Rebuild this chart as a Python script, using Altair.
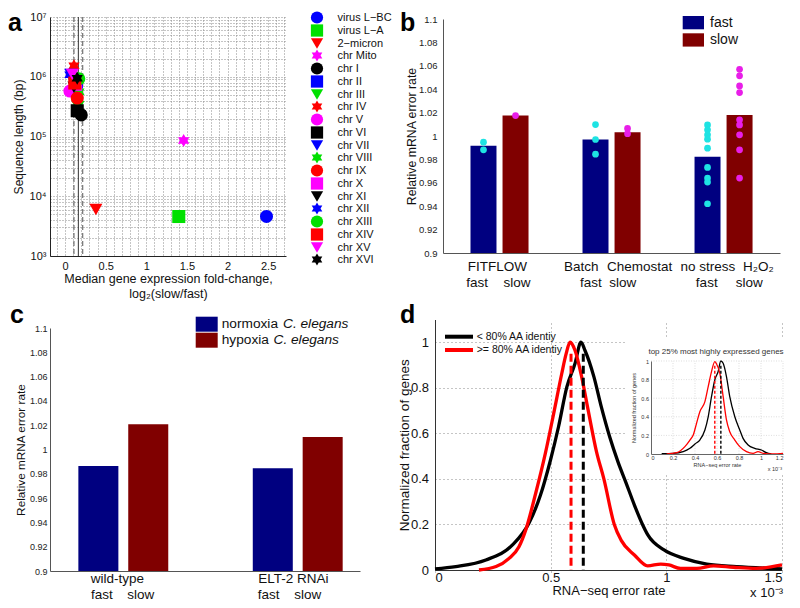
import altair as alt
import pandas as pd

FONT = "Liberation Sans"

# ---------------- panel a data ----------------
a_names = ["virus L−BC", "virus L−A", "2−micron", "chr Mito", "chr I", "chr II", "chr III",
           "chr IV", "chr V", "chr VI", "chr VII", "chr VIII", "chr IX", "chr X", "chr XI",
           "chr XII", "chr XIII", "chr XIV", "chr XV", "chr XVI"]
a_fold = [2.48, 1.40, 0.38, 1.46, 0.20, 0.14, 0.16, 0.11, 0.06, 0.15, 0.07, 0.17,
          0.15, 0.13, 0.11, 0.06, 0.17, 0.12, 0.09, 0.15]
a_length = [4600, 4580, 6000, 85800, 230000, 813000, 317000, 1530000, 577000, 270000,
            1090000, 563000, 440000, 746000, 667000, 1078000, 924000, 784000, 1091000, 948000]
a_ci_lines = [0.11, 0.218]
a_median_line = [0.164]

# ---------------- panel b data ----------------
b_groups = [1, 2, 3]
b_fast_mean = [0.9916, 0.9970, 0.9822]
b_slow_mean = [1.0175, 1.0033, 1.0180]
b_fast_points = [[0.9947, 0.9882],
                 [1.0098, 0.9970, 0.9845],
                 [1.0095, 1.0053, 1.0010, 0.9973, 0.9896, 0.9731, 0.9640, 0.9606, 0.9421]]
b_slow_points = [[1.0175],
                 [1.0065, 1.0020],
                 [1.0570, 1.0514, 1.0428, 1.0371, 1.0138, 1.0095, 1.0010, 0.9882, 0.9640]]
b_labels_top = ["FITFLOW", "Batch", "Chemostat", "no stress", "H₂O₂"]
b_labels_bottom = ["fast", "slow", "fast", "slow", "fast", "slow"]
b_conditions = ["fast", "slow"]

# ---------------- panel c data ----------------
c_groups = [1, 2]
c_normoxia = [0.9864, 0.9845]
c_hypoxia = [1.0207, 1.0103]
c_labels_top = ["wild-type", "ELT-2 RNAi"]
c_labels_bottom = ["fast", "slow", "fast", "slow"]
c_legend_plain = ["normoxia", "hypoxia"]
c_legend_italic = ["C. elegans", "C. elegans"]

# ticks shared by b and c
rel_ticks = [0.9, 0.92, 0.94, 0.96, 0.98, 1.0, 1.02, 1.04, 1.06, 1.08, 1.1]

# ---------------- panel d data (x in units of 1e-3) ----------------
d_series = ["< 80% AA identiy", ">= 80% AA identiy"]
d_low_x = [0.0, 0.09, 0.22, 0.335, 0.406, 0.456, 0.499, 0.534, 0.57, 0.605, 0.631, 0.648,
           0.687, 0.719, 0.755, 0.791, 0.825, 0.862, 0.897, 0.92, 0.99, 1.076, 1.175, 1.303, 1.5]
d_low_y = [0.005, 0.015, 0.044, 0.11, 0.205, 0.329, 0.482, 0.629, 0.804, 0.906, 1.0, 0.965,
           0.848, 0.716, 0.585, 0.475, 0.385, 0.285, 0.2, 0.154, 0.088, 0.051, 0.026, 0.015, 0.005]
d_high_x = [0.19, 0.264, 0.32, 0.363, 0.392, 0.435, 0.477, 0.513, 0.548, 0.567, 0.584, 0.605,
            0.634, 0.662, 0.698, 0.73, 0.775, 0.805, 0.862, 0.919, 0.976, 1.011, 1.061, 1.132,
            1.204, 1.289, 1.389, 1.5]
d_high_y = [0.0, 0.015, 0.051, 0.102, 0.175, 0.336, 0.512, 0.687, 0.863, 0.95, 1.0, 0.965,
            0.848, 0.702, 0.52, 0.40, 0.20, 0.13, 0.066, 0.018, 0.026, 0.022, 0.007, 0.007,
            0.018, 0.012, 0.007, 0.022]
d_medians = [0.641, 0.588]
d_median_tops = [0.95, 0.95]

# inset (top 25% most highly expressed genes)
i_low_x = [0.097, 0.2, 0.293, 0.354, 0.4, 0.444, 0.49, 0.52, 0.55, 0.58, 0.61, 0.635, 0.656,
           0.686, 0.716, 0.762, 0.807, 0.837, 0.883, 0.943, 1.004, 1.049, 1.094]
i_low_y = [0.004, 0.007, 0.025, 0.061, 0.108, 0.15, 0.258, 0.40, 0.616, 0.796, 0.885, 1.0, 0.975,
           0.832, 0.616, 0.40, 0.258, 0.168, 0.097, 0.061, 0.043, 0.014, 0.0]
i_high_x = [0.142, 0.233, 0.308, 0.354, 0.384, 0.414, 0.444, 0.49, 0.52, 0.55, 0.58, 0.596,
            0.626, 0.656, 0.686, 0.716, 0.762, 0.807, 0.868, 0.928, 0.973, 1.019, 1.109, 1.2]
i_high_y = [0.0, 0.014, 0.079, 0.15, 0.204, 0.33, 0.455, 0.563, 0.724, 0.885, 0.993, 0.968,
            0.867, 0.616, 0.366, 0.24, 0.15, 0.079, 0.025, 0.007, 0.025, 0.007, 0.0, 0.007]
i_medians = [0.635, 0.58]
i_median_tops = [0.95, 0.95]

# ---------------- styles ----------------
BLUE, GREEN, RED, MAGENTA, BLACK = "#0000ff", "#00e000", "#ff0000", "#ff00ff", "#000000"
NAVY, MAROON = "#000080", "#800000"
CYAN, PINK = "#1ee3e3", "#e81ee8"
HEXAGRAM = "M0,-1L0.866,0.5L-0.866,0.5Z M0,1L-0.866,-0.5L0.866,-0.5Z"
color_cycle = [BLUE, GREEN, RED, MAGENTA, BLACK]
shape_cycle = ["circle", "square", "triangle-down", HEXAGRAM]
a_colors = [color_cycle[i % 5] for i in range(len(a_names))]
a_shapes = [shape_cycle[i % 4] for i in range(len(a_names))]


def letter(txt, x, y, baseline):
    return alt.Chart(pd.DataFrame({"t": [txt]})).mark_text(
        fontSize=25, fontWeight="bold", align="left", baseline=baseline, font=FONT, color="black"
    ).encode(x=alt.value(x), y=alt.value(y), text="t:N")


# =============== panel a ===============
a_xvals = [round(-0.1 + 0.1 * i, 1) for i in range(29)]
a_yvals = [k * 10 ** e for e in range(3, 7) for k in range(1, 10)] + [10 ** 7]
a_xscale = alt.Scale(domain=[-0.185, 2.72], range=[0, 236], nice=False, zero=False)
a_yscale = alt.Scale(type="log", domain=[1e3, 1e7], nice=False)
a_xaxis = alt.Axis(
    values=a_xvals,
    labelExpr="abs(datum.value*2 - round(datum.value*2)) < 0.001 ? format(datum.value, '~g') : ''",
    grid=True, gridDash=[1, 2], gridColor="#8a8a8a", ticks=False, domainColor="#222",
    labelFontSize=11, labelPadding=4, labelColor="#111",
    title=["Median gene expression fold-change,", "log₂(slow/fast)"],
    titleFontSize=12.5, titleFontWeight="normal", titlePadding=1, titleLineHeight=15,
    titleColor="#111")
a_yaxis = alt.Axis(
    values=a_yvals,
    labelExpr="datum.value==1000?'10³':datum.value==10000?'10⁴':datum.value==100000?'10⁵':"
              "datum.value==1000000?'10⁶':datum.value==10000000?'10⁷':''",
    grid=True, gridDash=[1, 2], gridColor="#8a8a8a", ticks=False, domainColor="#222",
    labelFontSize=11, labelPadding=4, labelColor="#111",
    title="Sequence length (bp)", titleFontSize=12, titleFontWeight="normal", titlePadding=4,
    titleColor="#111")
ax = alt.X("fold:Q", scale=a_xscale, axis=a_xaxis)
ay = alt.Y("length:Q", scale=a_yscale, axis=a_yaxis)

a_leg = alt.Legend(title=None, orient="none", legendX=260.5, legendY=-6, symbolSize=150,
                   labelFontSize=11, labelFont=FONT, labelOffset=14, rowPadding=-0.55, padding=0,
                   symbolStrokeWidth=0, symbolOpacity=1, labelColor="#111", labelLimit=200)
a_df = pd.DataFrame({"name": a_names, "fold": a_fold, "length": a_length})
a_points = alt.Chart(a_df).mark_point(filled=True, size=170, opacity=1, strokeWidth=0).encode(
    x=ax, y=ay,
    color=alt.Color("name:N", scale=alt.Scale(domain=a_names, range=a_colors), legend=a_leg),
    shape=alt.Shape("name:N", scale=alt.Scale(domain=a_names, range=a_shapes), legend=a_leg),
)
a_ci = alt.Chart(pd.DataFrame({"fold": a_ci_lines})).mark_rule(
    strokeDash=[5, 3], color="#555", strokeWidth=1).encode(x=ax)
a_med = alt.Chart(pd.DataFrame({"fold": a_median_line})).mark_rule(
    color="#333", strokeWidth=1).encode(x=ax)
panel_a = alt.layer(a_ci, a_med, a_points, letter("a", -42, -6, "top")).properties(
    width=318, height=239)

# =============== panel b ===============
b_xscale = alt.Scale(domain=[0.4955, 3.504], nice=False, zero=False)
b_yscale = alt.Scale(domain=[0.9, 1.1], range=[236, 2], nice=False, zero=False)
b_xaxis = alt.Axis(labels=False, ticks=False, grid=False, title=None, domainColor="#555")
b_yaxis = alt.Axis(values=rel_ticks, format=".2~f", ticks=False, grid=False, domainColor="#555",
                   labelFontSize=9.5, labelPadding=6, labelColor="#222",
                   title="Relative mRNA error rate", titleFontSize=12.3,
                   titleFontWeight="normal", titlePadding=0.5, titleColor="#111")
b_fill = alt.Scale(domain=b_conditions, range=[NAVY, MAROON])
b_dot_color = alt.Scale(domain=b_conditions, range=[CYAN, PINK])

b_bar_df = pd.DataFrame({"g": b_groups * 2, "cond": ["fast"] * 3 + ["slow"] * 3,
                         "v": b_fast_mean + b_slow_mean})
b_bars = alt.Chart(b_bar_df).transform_calculate(
    x0="datum.g + (datum.cond == 'fast' ? -0.143 : 0.143) - 0.116",
    x1="datum.g + (datum.cond == 'fast' ? -0.143 : 0.143) + 0.116",
).mark_rect().encode(
    x=alt.X("x0:Q", scale=b_xscale, axis=b_xaxis), x2="x1:Q",
    y=alt.Y("v:Q", scale=b_yscale, axis=b_yaxis), y2=alt.datum(0.9),
    fill=alt.Fill("cond:N", scale=b_fill, legend=None))

rows = []
for g, pts in zip(b_groups, b_fast_points):
    rows += [(g, "fast", p) for p in pts]
for g, pts in zip(b_groups, b_slow_points):
    rows += [(g, "slow", p) for p in pts]
b_dot_df = pd.DataFrame(rows, columns=["g", "cond", "v"])
b_dots = alt.Chart(b_dot_df).transform_calculate(
    x0="datum.g + (datum.cond == 'fast' ? -0.143 : 0.143)"
).mark_circle(size=45, opacity=1).encode(
    x=alt.X("x0:Q", scale=b_xscale, axis=b_xaxis),
    y=alt.Y("v:Q", scale=b_yscale, axis=b_yaxis),
    color=alt.Color("cond:N", scale=b_dot_color, legend=None))

# category labels under the axis (label layout offsets in category units)
b_top_pos = [0.98, 1.73, 2.25, 2.86, 3.31]
b_bottom_pos = [0.80, 1.156, 1.815, 2.10, 2.85, 3.23]
b_top = alt.Chart(pd.DataFrame({"t": b_labels_top, "x0": b_top_pos})).mark_text(
    fontSize=13.5, baseline="middle", font=FONT, color="#111").encode(
    x=alt.X("x0:Q", scale=b_xscale, axis=b_xaxis), y=alt.value(250), text="t:N")
b_bottom = alt.Chart(pd.DataFrame({"t": b_labels_bottom, "x0": b_bottom_pos})).mark_text(
    fontSize=13.5, baseline="middle", font=FONT, color="#111").encode(
    x=alt.X("x0:Q", scale=b_xscale, axis=b_xaxis), y=alt.value(266), text="t:N")

b_legend = []
for i, cond in enumerate(b_conditions):
    one = alt.Chart(pd.DataFrame({"cond": [cond]}))
    b_legend.append(one.mark_rect().encode(
        x=alt.value(239.7), x2=alt.value(261), y=alt.value(-1 + 17.3 * i),
        y2=alt.value(12.3 + 17.3 * i), fill=alt.Fill("cond:N", scale=b_fill, legend=None)))
    b_legend.append(one.mark_text(fontSize=14, align="left", baseline="middle", font=FONT,
                                  color="#111").encode(
        x=alt.value(267), y=alt.value(5.7 + 17.3 * i), text="cond:N"))

panel_b = alt.layer(b_bars, b_dots, b_top, b_bottom, *b_legend,
                    letter("b", -43, -6, "top")).properties(width=337, height=236)

# =============== panel c ===============
c_xscale = alt.Scale(domain=[0.5797, 2.357], nice=False, zero=False)
c_yscale = alt.Scale(domain=[0.9, 1.1], range=[248, 5], nice=False, zero=False)
c_xaxis = alt.Axis(labels=False, ticks=False, grid=False, title=None, domainColor="#555")
c_yaxis = alt.Axis(values=rel_ticks, format=".2~f", ticks=False, grid=False, domainColor="#555",
                   labelFontSize=9, labelPadding=3, labelColor="#222",
                   title="Relative mRNA error rate", titleFontSize=11.8,
                   titleFontWeight="normal", titlePadding=3, titleColor="#111")
c_cond = ["normoxia C. elegans", "hypoxia C. elegans"]
c_fill = alt.Scale(domain=c_cond, range=[NAVY, MAROON])
c_bar_df = pd.DataFrame({"g": c_groups * 2, "cond": [c_cond[0]] * 2 + [c_cond[1]] * 2,
                         "v": c_normoxia + c_hypoxia})
c_bars = alt.Chart(c_bar_df).transform_calculate(
    x0="datum.g + (datum.cond == '%s' ? -0.143 : 0.143) - 0.1147" % c_cond[0],
    x1="datum.g + (datum.cond == '%s' ? -0.143 : 0.143) + 0.1147" % c_cond[0],
).mark_rect().encode(
    x=alt.X("x0:Q", scale=c_xscale, axis=c_xaxis), x2="x1:Q",
    y=alt.Y("v:Q", scale=c_yscale, axis=c_yaxis), y2=alt.datum(0.9),
    fill=alt.Fill("cond:N", scale=c_fill, legend=None))
c_top_pos = [0.966, 1.975]
c_bottom_pos = [0.877, 1.10, 1.833, 2.057]
c_top = alt.Chart(pd.DataFrame({"t": c_labels_top, "x0": c_top_pos})).mark_text(
    fontSize=13.5, baseline="middle", font=FONT, color="#111").encode(
    x=alt.X("x0:Q", scale=c_xscale, axis=c_xaxis), y=alt.value(256.3), text="t:N")
c_bottom = alt.Chart(pd.DataFrame({"t": c_labels_bottom, "x0": c_bottom_pos})).mark_text(
    fontSize=13.5, baseline="middle", font=FONT, color="#111").encode(
    x=alt.X("x0:Q", scale=c_xscale, axis=c_xaxis), y=alt.value(272), text="t:N")
c_legend = []
c_italic_x = [233, 223.5]
for i, cond in enumerate(c_cond):
    one = alt.Chart(pd.DataFrame({"cond": [cond], "p": [c_legend_plain[i]],
                                  "it": [c_legend_italic[i]]}))
    c_legend.append(one.mark_rect().encode(
        x=alt.value(145.7), x2=alt.value(167.7), y=alt.value(-6.3 + 16 * i),
        y2=alt.value(8.7 + 16 * i), fill=alt.Fill("cond:N", scale=c_fill, legend=None)))
    c_legend.append(one.mark_text(fontSize=13.7, align="left", baseline="middle", font=FONT,
                                  color="#111").encode(
        x=alt.value(171.7), y=alt.value(1 + 16 * i), text="p:N"))
    c_legend.append(one.mark_text(fontSize=13.7, align="left", baseline="middle", font=FONT,
                                  fontStyle="italic", color="#111").encode(
        x=alt.value(c_italic_x[i]), y=alt.value(1 + 16 * i), text="it:N"))

panel_c = alt.layer(c_bars, c_top, c_bottom, *c_legend,
                    letter("c", -40, 0, "alphabetic")).properties(width=310, height=248)

# =============== panel d ===============
d_xscale = alt.Scale(domain=[0, 1.5], range=[-8, 339], nice=False, zero=False)
d_yscale = alt.Scale(domain=[0, 1.1], range=[247, -3.5], nice=False, zero=False)
d_xaxis = alt.Axis(values=[0, 0.5, 1.0, 1.5], format="~g", grid=True, gridDash=[1, 3],
                   gridColor="#8a8a8a", ticks=False, domainColor="#333", labelFontSize=13,
                   labelPadding=1.5, labelColor="#111", title="RNA−seq error rate",
                   titleFontSize=13, titleFontWeight="normal", titlePadding=0,
                   titleColor="#111")
d_yaxis = alt.Axis(values=[0, 0.2, 0.4, 0.6, 0.8, 1.0], format=".1~f", grid=True,
                   gridDash=[1, 3], gridColor="#8a8a8a", ticks=False, domainColor="#333",
                   labelFontSize=13, labelPadding=6.5, labelColor="#111", offset=8,
                   title="Normalized fraction of genes", titleFontSize=13.5,
                   titleFontWeight="normal", titlePadding=-1, titleColor="#111")
d_color = alt.Scale(domain=d_series, range=[BLACK, RED])

d_line_df = pd.concat([
    pd.DataFrame({"x": d_low_x, "y": d_low_y, "series": d_series[0]}),
    pd.DataFrame({"x": d_high_x, "y": d_high_y, "series": d_series[1]}),
])
d_lines = alt.Chart(d_line_df).mark_line(strokeWidth=3.3, interpolate="monotone").encode(
    x=alt.X("x:Q", scale=d_xscale, axis=d_xaxis),
    y=alt.Y("y:Q", scale=d_yscale, axis=d_yaxis),
    color=alt.Color("series:N", scale=d_color, legend=None),
    order=alt.Order("x:Q"))
d_med_df = pd.DataFrame({"x": d_medians, "y": d_median_tops, "series": d_series})
d_meds = alt.Chart(d_med_df).transform_calculate(y0="0").mark_rule(
    strokeWidth=3, strokeDash=[8, 4]).encode(
    x=alt.X("x:Q", scale=d_xscale, axis=d_xaxis),
    y=alt.Y("y:Q", scale=d_yscale, axis=d_yaxis), y2="y0:Q",
    color=alt.Color("series:N", scale=d_color, legend=None))
d_legend = []
for i, s in enumerate(d_series):
    one = alt.Chart(pd.DataFrame({"series": [s]}))
    d_legend.append(one.mark_rule(strokeWidth=4).encode(
        x=alt.value(2), x2=alt.value(30), y=alt.value(13.7 + 13.3 * i),
        color=alt.Color("series:N", scale=d_color, legend=None)))
    d_legend.append(one.mark_text(fontSize=10.5, align="left", baseline="middle", font=FONT,
                                  color="#111").encode(
        x=alt.value(33.7), y=alt.value(13.7 + 13.3 * i), text="series:N"))
d_exp = alt.Chart(pd.DataFrame({"t": ["x 10⁻³"]})).mark_text(
    fontSize=13, align="right", baseline="middle", font=FONT, color="#111").encode(
    x=alt.value(340), y=alt.value(270), text="t:N")

d_main = alt.layer(d_lines, d_meds, *d_legend, d_exp, letter("d", -43, 0, "alphabetic"))

# inset with its own scales placed inside panel d
i_xscale = alt.Scale(domain=[0, 1.2], range=[208, 340], nice=False, zero=False)
i_yscale = alt.Scale(domain=[0, 1], range=[131, 38], nice=False, zero=False)
i_xaxis = alt.Axis(orient="bottom", offset=-116, values=[0, 0.2, 0.4, 0.6, 0.8, 1.0, 1.2],
                   format=".1~f", grid=False, ticks=False, domainColor="#666",
                   labelFontSize=5.5, labelPadding=1.5, labelColor="#333",
                   title="RNA−seq error rate", titleFontSize=5.5, titleFontWeight="normal",
                   titlePadding=1.5, titleColor="#333", zindex=1)
i_yaxis = alt.Axis(orient="left", offset=-208, values=[0, 0.2, 0.4, 0.6, 0.8, 1.0],
                   format=".1~f", grid=False, ticks=False, domainColor="#666",
                   labelFontSize=5.5, labelPadding=2.5, labelColor="#333",
                   title="Normalized fraction of genes", titleFontSize=5.5,
                   titleFontWeight="normal", titlePadding=4, titleColor="#333", zindex=1)
ix = alt.X("ix:Q", scale=i_xscale, axis=i_xaxis)
iy = alt.Y("iy:Q", scale=i_yscale, axis=i_yaxis)

i_bg = alt.Chart(pd.DataFrame({"t": ["bg"]})).mark_rect(fill="white").encode(
    x=alt.value(182), x2=alt.value(344), y=alt.value(15), y2=alt.value(151.5))
i_vgrid = alt.Chart(pd.DataFrame({"ix": [0.2, 0.4, 0.6, 0.8, 1.0, 1.2]})).transform_calculate(
    iy="0", iy2="1").mark_rule(color="#c8c8c8", strokeWidth=0.6, strokeDash=[1, 1.5]).encode(
    x=ix, y=iy, y2="iy2:Q")
i_hgrid = alt.Chart(pd.DataFrame({"iy": [0.2, 0.4, 0.6, 0.8, 1.0]})).transform_calculate(
    ix="0", ix2="1.2").mark_rule(color="#c8c8c8", strokeWidth=0.6, strokeDash=[1, 1.5]).encode(
    x=ix, x2="ix2:Q", y=iy)
i_line_df = pd.concat([
    pd.DataFrame({"ix": i_low_x, "iy": i_low_y, "series": d_series[0]}),
    pd.DataFrame({"ix": i_high_x, "iy": i_high_y, "series": d_series[1]}),
])
i_lines = alt.Chart(i_line_df).mark_line(strokeWidth=1.3, interpolate="monotone").encode(
    x=ix, y=iy, color=alt.Color("series:N", scale=d_color, legend=None),
    order=alt.Order("ix:Q"))
i_meds = alt.Chart(pd.DataFrame({"ix": i_medians, "iy": i_median_tops, "series": d_series})
                   ).transform_calculate(iy0="0").mark_rule(
    strokeWidth=1.4, strokeDash=[3, 2]).encode(
    x=ix, y=iy, y2="iy0:Q", color=alt.Color("series:N", scale=d_color, legend=None))
i_title = alt.Chart(pd.DataFrame({"t": ["top 25% most highly expressed genes"]})).mark_text(
    fontSize=8, baseline="middle", font=FONT, color="#333").encode(
    x=alt.value(273), y=alt.value(28.7), text="t:N")
i_exp = alt.Chart(pd.DataFrame({"t": ["x 10⁻³"]})).mark_text(
    fontSize=5.5, align="right", baseline="middle", font=FONT, color="#333").encode(
    x=alt.value(339), y=alt.value(146), text="t:N")
d_inset = alt.layer(i_bg, i_vgrid, i_hgrid, i_lines, i_meds, i_title, i_exp)

panel_d = alt.layer(d_main, d_inset).resolve_scale(x="independent", y="independent").properties(
    width=347, height=247)

chart = alt.concat(panel_a, panel_b, panel_c, panel_d, columns=2,
                   spacing={"row": 67, "column": 75}, align="none", bounds="flush")
chart = chart.resolve_scale(color="independent", fill="independent", shape="independent")
chart = chart.resolve_legend(color="independent", fill="independent", shape="independent")
chart = chart.properties(padding={"top": 3, "left": 0, "right": 0, "bottom": 0}).configure(
    font=FONT).configure_view(stroke=None)

chart.save("out.html", embed_options={"renderer": "svg", "actions": False})
